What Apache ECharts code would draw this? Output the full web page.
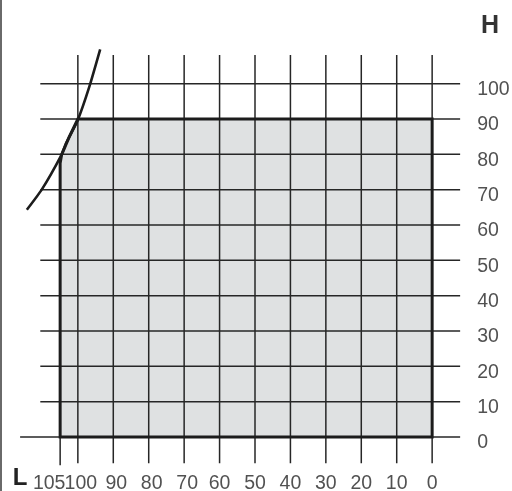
<!DOCTYPE html>
<html>
<head>
<meta charset="utf-8">
<script src="https://cdn.jsdelivr.net/npm/echarts@6/dist/echarts.min.js"></script>
<style>
  html, body { margin: 0; padding: 0; background: #fff; }
  #main { width: 512px; height: 491px; }
</style>
</head>
<body>
<div id="main"></div>
<script>
// tick values (L runs right to left, H bottom to top)
var lTicks = [0, 10, 20, 30, 40, 50, 60, 70, 80, 90, 100];
var hTicks = [0, 10, 20, 30, 40, 50, 60, 70, 80, 90, 100];
var lLabels = ['0', '10', '20', '30', '40', '50', '60', '70', '80', '90', '100', '105'];
var lLabelVals = [0, 10, 20, 30, 40, 50, 60, 70, 80, 90, 100, 105];
var lEdge = 105;

// grey field outline
var fillL = [105, 105, 104.6, 102.5, 100, 0, 0];
var fillH = [0, 77.5, 79.8, 84.8, 90, 90, 0];

// limit curve
var curveL = [114.4, 110.2, 104.8, 103.3, 100.1, 96.8, 93.7];
var curveH = [64.3, 70.0, 79.5, 83.2, 89.5, 99.0, 109.7];

var chart = echarts.init(document.getElementById('main'));

// extents of the drawn grid lines (data units)
var hLineFrom = 110.6, hLineTo = -7.9, zeroFrom = 116.3;
var vLineTop = 108.1, vLineBottom = -7.4;

var gridLines = [];
hTicks.forEach(function (h) {
  gridLines.push([h === 0 ? zeroFrom : hLineFrom, h, hLineTo, h]);
});
lTicks.forEach(function (l) {
  gridLines.push([l, vLineTop, l, vLineBottom]);
});
gridLines.push([lEdge, 0, lEdge, vLineBottom - 0.6]);

var lineColor = '#262626';
var txt = '#262626';
var font = '"Liberation Sans", Arial, sans-serif';

function polyRender(filled) {
  return function (params, api) {
    var pts = fillL.map(function (l, i) { return api.coord([l, fillH[i]]); });
    return {
      type: 'polygon',
      shape: { points: pts },
      style: filled ? { fill: '#dfe1e2', stroke: null }
                    : { fill: null, stroke: '#1c1c1c', lineWidth: 3, lineJoin: 'miter' }
    };
  };
}

var option = {
  animation: false,
  grid: { left: 7, right: 9, top: 13, bottom: 1 },
  xAxis: {
    type: 'value', inverse: true, min: -20, max: 120,
    show: false
  },
  yAxis: {
    type: 'value', min: -15, max: 120,
    show: false
  },
  graphic: [
    { type: 'rect', shape: { x: 0, y: 0, width: 2, height: 491 }, style: { fill: '#6a6a6a' } },
    { type: 'text', x: 490, y: 26, style: { text: 'H', fill: '#333', font: 'bold 25px ' + font, align: 'center', verticalAlign: 'middle' } },
    { type: 'text', x: 20, y: 478, style: { text: 'L', fill: '#222', font: 'bold 24px ' + font, align: 'center', verticalAlign: 'middle' } }
  ],
  series: [
    {
      type: 'custom', z: 1,
      data: [[0, 0]],
      renderItem: polyRender(true)
    },
    {
      type: 'custom', z: 2,
      data: gridLines,
      renderItem: function (params, api) {
        var p1 = api.coord([api.value(0), api.value(1)]);
        var p2 = api.coord([api.value(2), api.value(3)]);
        return {
          type: 'line',
          shape: { x1: p1[0], y1: p1[1], x2: p2[0], y2: p2[1] },
          style: { stroke: lineColor, lineWidth: 1.5 }
        };
      }
    },
    {
      type: 'custom', z: 3,
      data: [[0, 0]],
      renderItem: polyRender(false)
    },
    {
      type: 'line', z: 4,
      data: curveL.map(function (l, i) { return [l, curveH[i]]; }),
      smooth: 0.2,
      symbol: 'none',
      clip: false,
      lineStyle: { color: '#1c1c1c', width: 2.6 }
    },
    {
      // H tick labels on the right
      type: 'scatter', z: 5,
      symbolSize: 0,
      data: hTicks.map(function (h) { return [-12.7, h]; }),
      label: {
        show: true, position: 'right', distance: 0, offset: [0, 6],
        formatter: function (p) { return String(p.value[1]); },
        color: txt, fontSize: 19.5, fontFamily: font
      }
    },
    {
      // L tick labels along the bottom
      type: 'scatter', z: 5,
      symbolSize: 0,
      data: lLabelVals.map(function (l) {
        var dx = l === 105 ? -11 : (l >= 70 ? 3 : 0);
        return { value: [l, -13.2], label: { offset: [dx, 0] } };
      }),
      label: {
        show: true, position: 'inside',
        formatter: function (p) { return lLabels[p.dataIndex]; },
        color: txt, fontSize: 19.5, fontFamily: font
      }
    }
  ]
};

chart.setOption(option);
</script>
</body>
</html>
